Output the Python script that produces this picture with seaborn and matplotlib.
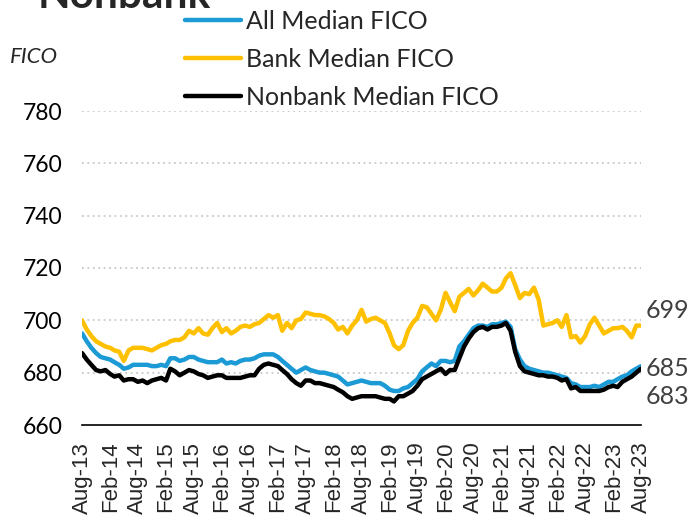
import pandas as pd
import seaborn as sns
import matplotlib.pyplot as plt
import matplotlib.dates as mdates

# monthly medians, Aug-13 .. Aug-23
all_fico = [
    695, 692, 689.5, 687.5, 686, 685.5, 685, 684, 683, 681.5,
    682, 683, 683, 683, 683, 682.5, 682.5, 683, 682.5, 685.5,
    685.5, 684.5, 685, 686, 686, 685, 684.5, 684, 684, 684,
    685, 683.5, 684, 683.5, 684.5, 685, 685, 685.5, 686.5, 687,
    687, 687, 686, 684.5, 683, 681.5, 680, 681, 682, 681,
    680.5, 680, 680, 679.5, 679, 678.5, 677, 675.5, 676, 676.5,
    677, 676.5, 676, 676, 676, 675, 673.5, 673, 673, 674,
    674.5, 676, 677.5, 680.5, 682, 683.5, 682.5, 684.5, 684.5, 684,
    684.5, 690, 692, 694.5, 697, 698, 698, 697.5, 698.5, 698.5,
    699, 699.5, 697.5, 689, 685, 682.5, 681.5, 681, 680.5, 680,
    680, 679.5, 679, 678.5, 678, 676, 675.5, 674.5, 674.5, 674.5,
    675, 674.5, 675.5, 676.5, 676.5, 677.5, 678.5, 679, 680.5, 681.5,
    682.5,
]

bank_fico = [
    700, 696.5, 694, 692, 691, 690, 689.5, 688.5, 688, 684.5,
    688.5, 689.5, 689.5, 689.5, 689, 688.5, 689.5, 690.5, 691, 692,
    692.5, 692.5, 693.5, 696, 695, 697, 695, 694.5, 697, 699,
    695.5, 697, 695, 696, 697.5, 698, 697.5, 698.5, 699, 700.5,
    702, 701, 702, 696, 699, 697, 700, 700.5, 703, 702.5,
    702, 702, 701.5, 700.5, 699, 696.5, 697.5, 695, 698, 700,
    704, 699.5, 700.5, 701, 700, 699, 695, 690.5, 689, 690.5,
    696, 699, 701, 705.5, 705, 702.5, 700, 704, 710.5, 707,
    703.5, 709, 710.5, 712, 709.5, 711.5, 714, 712.5, 711, 711,
    712.5, 716, 718, 713.5, 708.5, 710.5, 710, 712.5, 708, 698,
    698.5, 699, 700, 697.5, 702, 693.5, 694, 691.5, 694, 698.5,
    701, 698, 695, 696, 697, 697, 697.5, 696, 693.5, 698,
    698,
]

nonbank_fico = [
    687.5, 685, 683, 681, 680.5, 681, 679.5, 678.5, 679, 677,
    677.5, 677.5, 676.5, 677, 676, 677, 677.5, 678, 677, 681.5,
    680.5, 679, 680, 681, 680.5, 679.5, 679, 678, 678.5, 679,
    679, 678, 678, 678, 678, 678.5, 679, 679, 681.5, 683,
    683.5, 683, 682.5, 681, 679.5, 677.5, 676, 675, 677, 677,
    676, 676, 675.5, 675, 674.5, 673.5, 672.5, 671, 670, 670.5,
    671, 671, 671, 671, 670.5, 670, 670, 669, 671, 671,
    672, 673, 675, 677.5, 678.5, 679.5, 680.5, 681.5, 679.5, 681,
    681, 685.5, 690, 693, 695.5, 697, 697.5, 696.5, 697.5, 697.5,
    698, 699, 696, 688, 682.5, 680.5, 680, 679.5, 679, 679,
    678.5, 678.5, 678, 677, 677.5, 674, 674.5, 673, 673, 673,
    673, 673, 673.5, 674.5, 675, 674.5, 676.5, 677.5, 678.5, 680,
    681.5,
]

series_names = ['All Median FICO', 'Bank Median FICO', 'Nonbank Median FICO']
series_colors = ['#1B9AD6', '#FFC000', '#000000']
end_labels = ['685', '699', '683']
y_ticks = [660, 680, 700, 720, 740, 760, 780]

dates = pd.date_range('2013-08-01', periods=len(all_fico), freq='MS')

df = pd.DataFrame({'Date': dates, 'All Median FICO': all_fico,
                   'Bank Median FICO': bank_fico,
                   'Nonbank Median FICO': nonbank_fico})
long_df = df.melt(id_vars='Date', var_name='Series', value_name='FICO')

sns.set_style('white')
plt.rcParams['font.family'] = ['Lato', 'DejaVu Sans']

fig = plt.figure(figsize=(6.96, 5.16), dpi=100)
ax = fig.add_axes([82 / 696, 1 - 425 / 516, (641 - 82) / 696, (425 - 111) / 516])

sns.lineplot(data=long_df, x='Date', y='FICO', hue='Series',
             hue_order=series_names, palette=series_colors,
             linewidth=3.2, ax=ax, legend=False)

ax.set_xlim(dates[0], dates[-1])
ax.set_ylim(660, 780)
ax.set_yticks(y_ticks)
ax.set_xlabel('')
ax.set_ylabel('')

# gridlines
for y in y_ticks[1:]:
    ax.axhline(y, color='#C8C8C8', linestyle=(0, (1, 2)), linewidth=1.3, zorder=0)

ax.xaxis.set_major_locator(mdates.MonthLocator(bymonth=[2, 8]))
ax.xaxis.set_major_formatter(mdates.DateFormatter('%b-%y'))
ax.tick_params(axis='x', direction='out', length=5, width=1.2, color='black',
               pad=7, labelsize=16, rotation=90)
for lab in ax.get_xticklabels():
    lab.set_family('Liberation Sans')
ax.tick_params(axis='y', length=0, pad=14, labelsize=16.5, labelcolor='black')

for side in ['left', 'right', 'top']:
    ax.spines[side].set_visible(False)
ax.spines['bottom'].set_color('black')
ax.spines['bottom'].set_linewidth(1.2)

# end-of-series labels
end_vals = [all_fico[-1], bank_fico[-1], nonbank_fico[-1]]
offsets = [-2, 11, -20]
for txt, val, dy in zip(end_labels, end_vals, offsets):
    ax.annotate(txt, xy=(dates[-1], val), xytext=(3, dy), textcoords='offset points',
                ha='left', va='center', fontsize=18, color='#404040',
                annotation_clip=False)

handles = [plt.Line2D([], [], color=c, linewidth=3.2) for c in series_colors]
fig.legend(handles, series_names, loc='upper left',
           bbox_to_anchor=(185 / 696, 1 - 10 / 516), frameon=False,
           fontsize=18, handlelength=2.25, handletextpad=0.2,
           labelspacing=0.6, borderaxespad=0, borderpad=0)

fig.text(10 / 696, 1 - 57 / 516, 'FICO', style='italic', fontsize=16,
         ha='left', va='center')
fig.text(38 / 696, 1 - 8 / 516, 'Nonbank', fontweight='bold', fontsize=30.5,
         ha='left', va='baseline')

fig.savefig('out.png', dpi=100)
